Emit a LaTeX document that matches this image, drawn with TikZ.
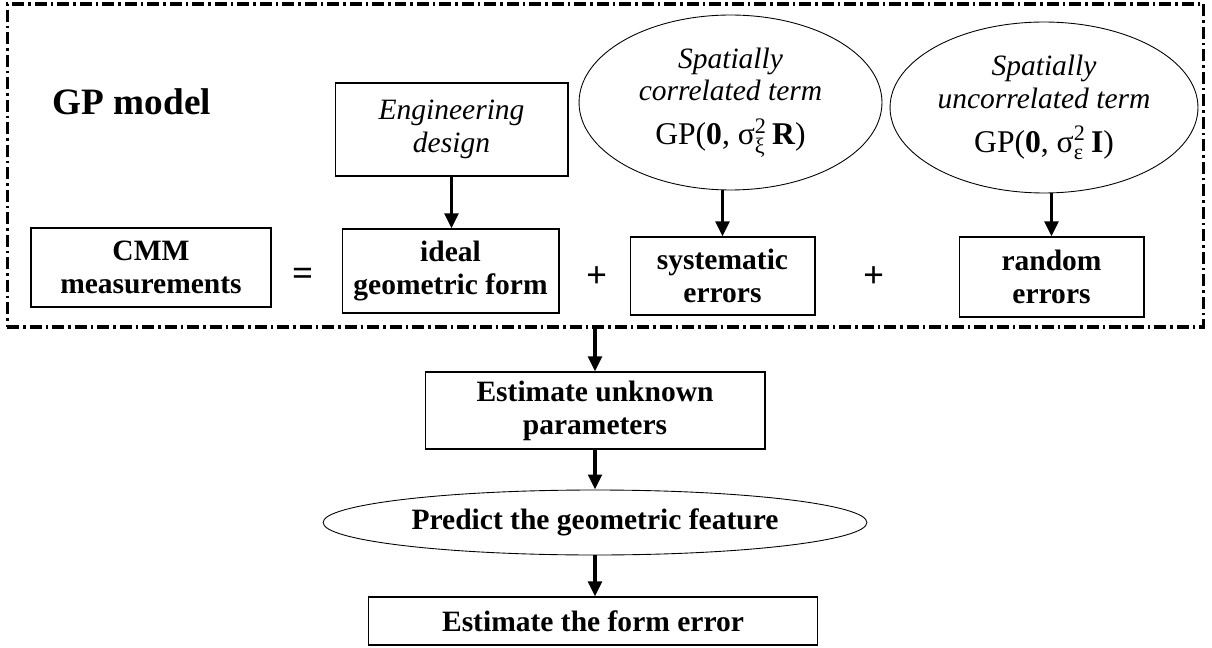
\documentclass[tikz,border=0pt]{standalone}
\usepackage{fontspec}
\usepackage{amsmath}
\setmainfont{Liberation Serif}
\usetikzlibrary{shapes.geometric,arrows.meta}
\newcommand\bodyfont{\fontsize{16.8}{18.7}\selectfont}
\newcommand\gpfont{\fontsize{18}{20}\selectfont}
\tikzset{
	box/.style={draw, line width=0.6pt, inner sep=0pt, align=center, font=\bfseries\bodyfont},
	ibox/.style={draw, line width=0.6pt, inner sep=0pt, align=center, font=\itshape\bodyfont},
	oval/.style={draw, ellipse, line width=0.5pt, inner sep=0pt, align=center, font=\itshape\bodyfont},
	boldoval/.style={draw, ellipse, line width=0.5pt, inner sep=0pt, align=center, font=\bfseries\bodyfont},
	sign/.style={inner sep=0pt, font=\bfseries\fontsize{21}{24}\selectfont},
	flow/.style={line width=2pt, -{Triangle[width=0.27cm,length=0.3cm]}},
	gpframe/.style={draw, line width=1.8pt, inner sep=0pt, dash pattern=on 0.24cm off 0.08cm on 0.05cm off 0.08cm}
}

\begin{document}
\begin{tikzpicture}[x=0.02cm, y=-0.02cm]
			%%%%% START %%%%%
			\useasboundingbox (0, 0) rectangle (1212, 648);
			
			\node[gpframe, minimum width=23.94cm, minimum height=6.46cm] (gp) at (605.5, 165.5) {};
			\node[inner sep=0pt, font=\bfseries\fontsize{21.2}{24}\selectfont] (title) at (132, 102) {GP model};
			
			\node[ibox, minimum width=4.66cm, minimum height=1.86cm] (eng) at (451.5, 129.5) {Engineering\\design};
			\node[oval, minimum width=6.06cm, minimum height=3.5cm] (corr) at (730.5, 102.5)
				{Spatially\\correlated term\\[6pt]{\upshape\gpfont GP(\textbf{0}, $\text{σ}^{\text{2}}_{\text{ξ}}$\,\textbf{R})}};
			\node[oval, minimum width=6.16cm, minimum height=3.42cm] (uncorr) at (1044, 107.5)
				{Spatially\\uncorrelated term\\[6pt]{\upshape\gpfont GP(\textbf{0}, $\text{σ}^{\text{2}}_{\text{ε}}$\,\textbf{I})}};
			
			\node[box, minimum width=4.8cm, minimum height=1.58cm] (cmm) at (151, 267.5) {CMM\\measurements};
			\node[sign] (eq) at (303, 277) {=};
			\node[box, minimum width=4.34cm, minimum height=1.68cm] (ideal) at (450.5, 271) {ideal\\geometric form};
			\node[sign] (plusa) at (597, 277) {+};
			\node[box, minimum width=3.7cm, minimum height=1.56cm] (sys) at (722.5, 276) {systematic\\errors};
			\node[sign] (plusb) at (874, 277) {+};
			\node[box, minimum width=3.7cm, minimum height=1.6cm] (rand) at (1051.5, 277) {random\\errors};
			
			\node[box, minimum width=6.8cm, minimum height=1.54cm] (est) at (595, 410.5) {Estimate unknown\\parameters};
			\node[boldoval, minimum width=10.88cm, minimum height=1.3cm] (pred) at (595, 522.5) {Predict the geometric feature};
			\node[box, minimum width=9cm, minimum height=0.96cm] (form) at (593, 621) {Estimate the form error};
			
			\draw[flow] (eng.south) -- (eng.south |- ideal.north);
			\draw[flow] (corr.south -| sys.north) -- (sys.north);
			\draw[flow] (uncorr.south -| rand.north) -- (rand.north);
			\draw[flow] (gp.south -| est.north) -- (est.north);
			\draw[flow] (est.south) -- (pred.north);
			\draw[flow] (pred.south) -- (pred.south |- form.north);
			%%%%% END %%%%%
\end{tikzpicture}
\end{document}
